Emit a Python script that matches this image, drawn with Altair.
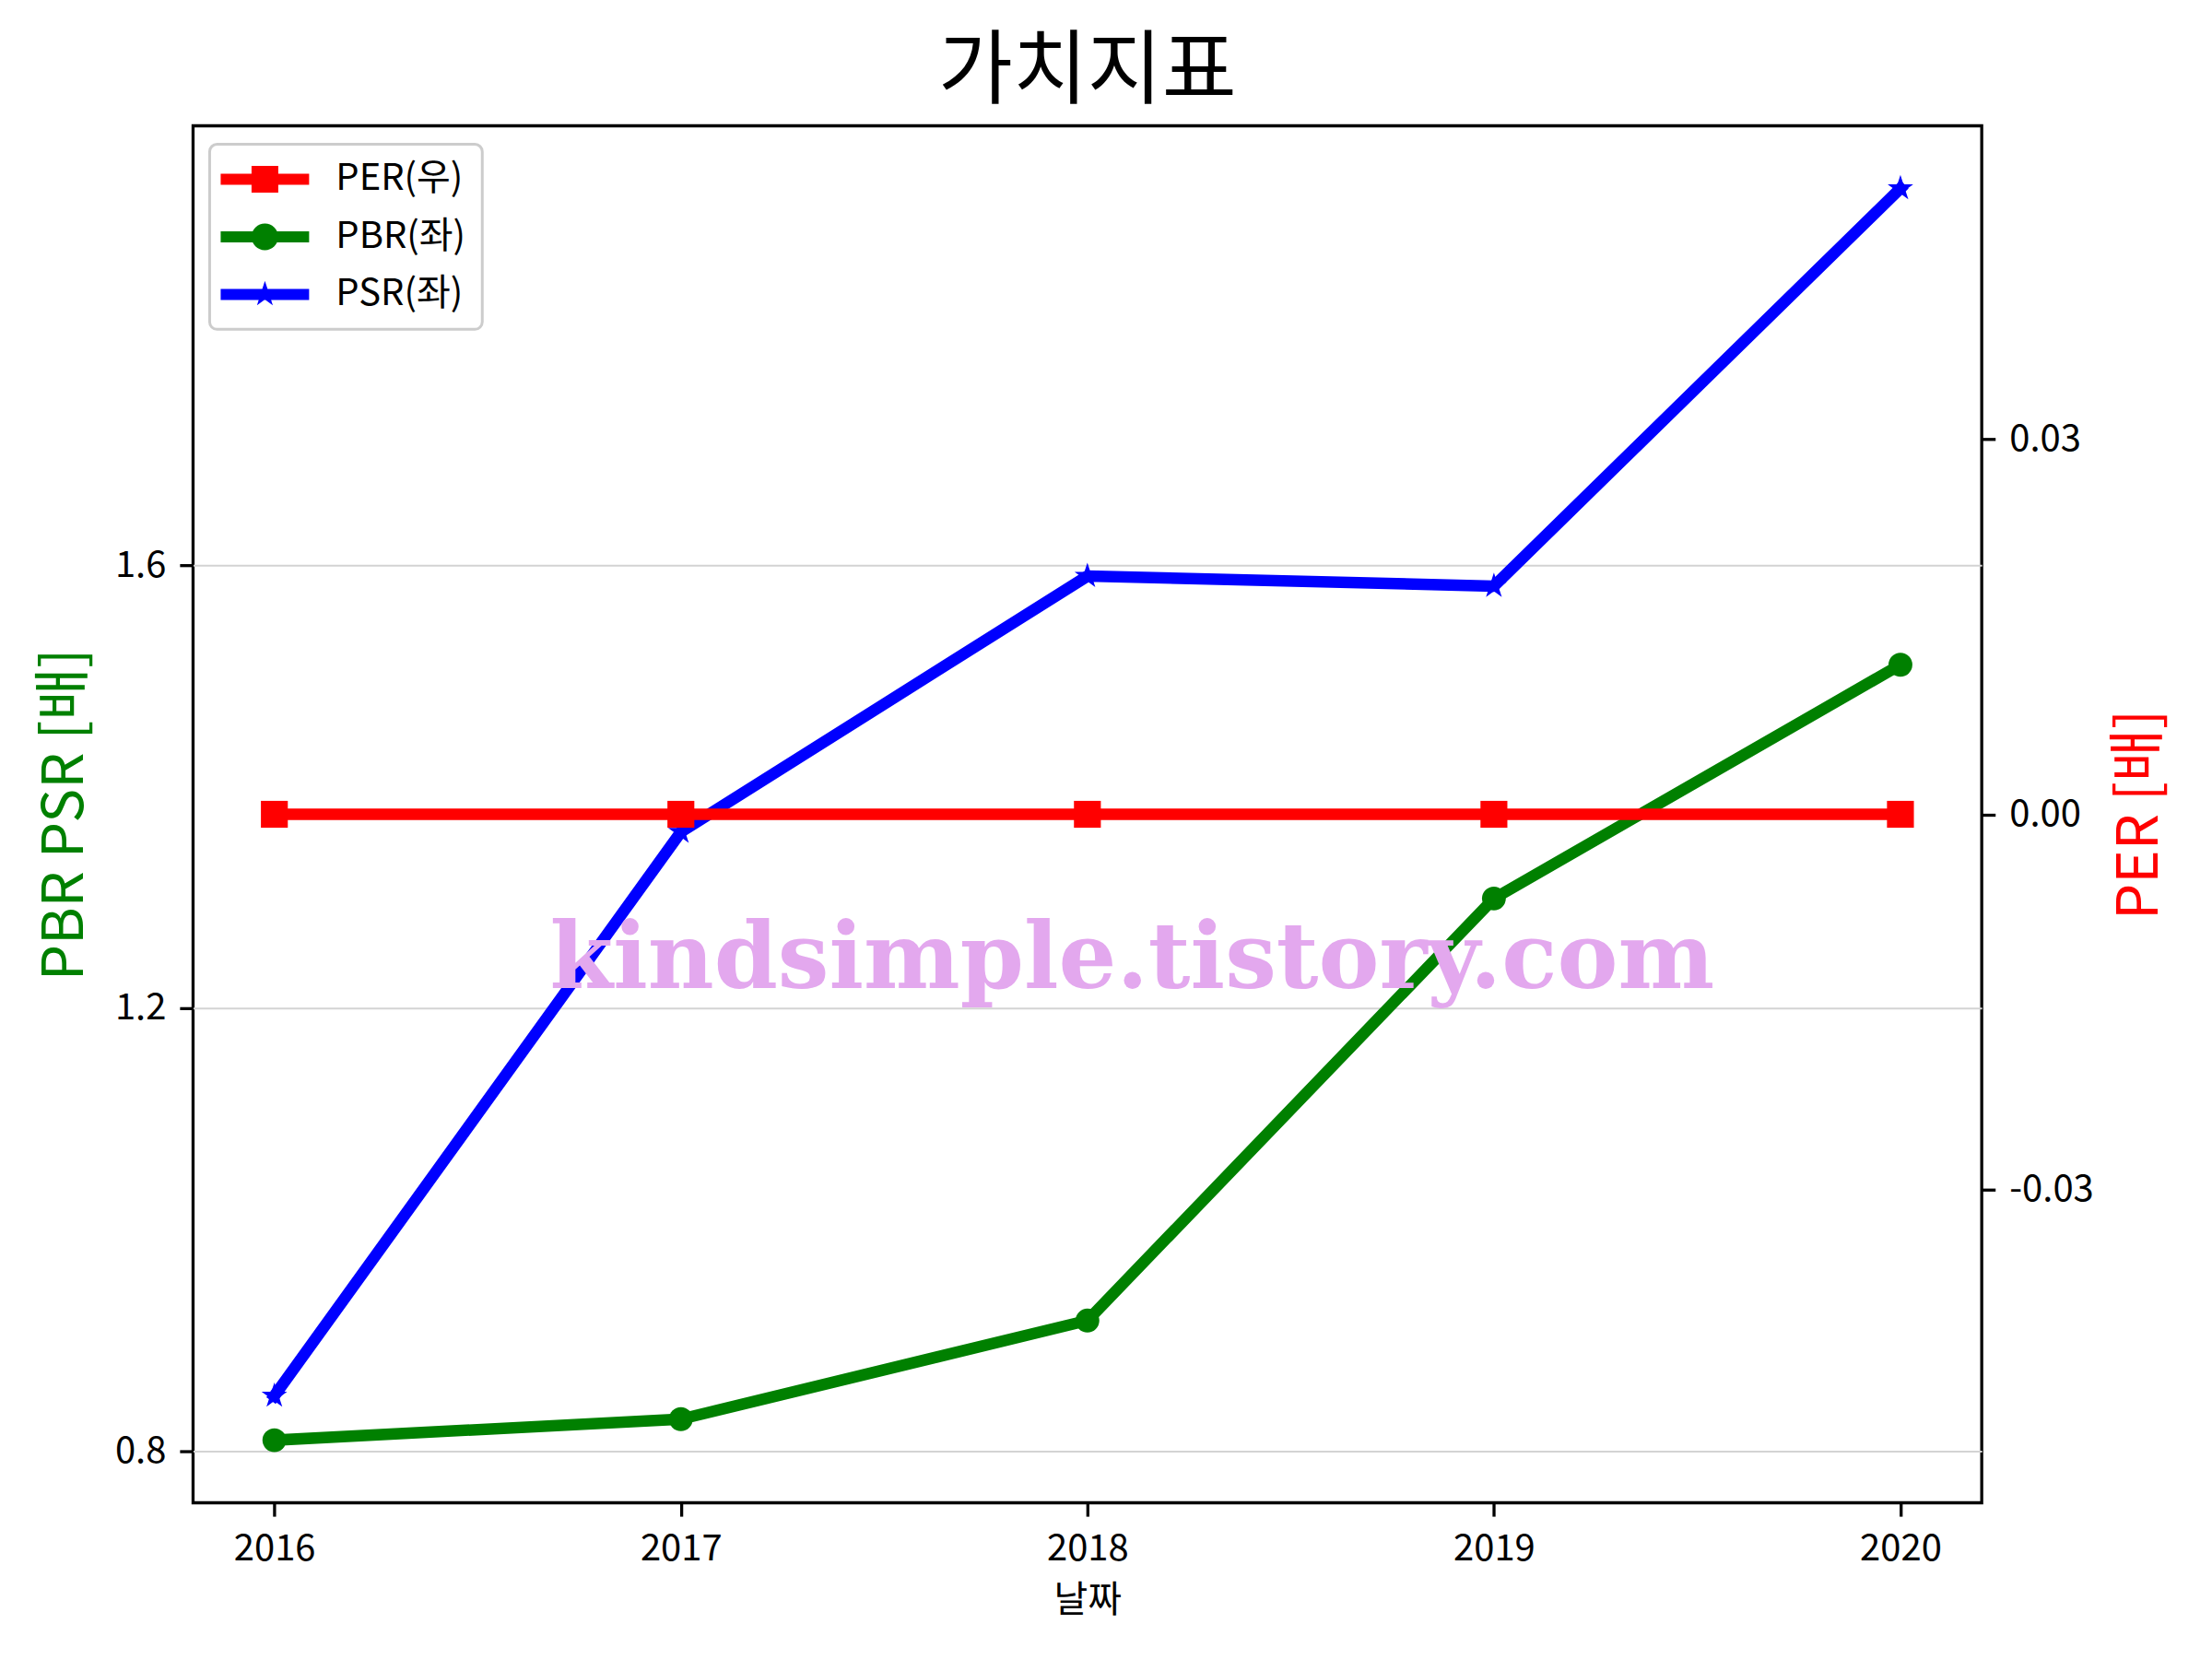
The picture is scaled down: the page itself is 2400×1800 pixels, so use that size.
import math
import altair as alt
import pandas as pd

# ---------------- data ----------------
years = [2016, 2017, 2018, 2019, 2020]
per_values = [0.0, 0.0, 0.0, 0.0, 0.0]
pbr_values = [0.810, 0.829, 0.918, 1.299, 1.510]
psr_values = [0.850, 1.359, 1.590, 1.581, 1.940]
series_names = ["PER(우)", "PBR(좌)", "PSR(좌)"]
series_colors = ["#FF0000", "#008000", "#0000FF"]
left_ticks = [0.8, 1.2, 1.6]
right_ticks = [-0.03, 0.0, 0.03]

FONT = "Noto Sans CJK KR"

rows = []
for name, vals in zip(series_names, [per_values, pbr_values, psr_values]):
    for yr, v in zip(years, vals):
        rows.append({"year": yr, "series": name, "value": v})
df = pd.DataFrame(rows)
df_left = df[df["series"] != series_names[0]]
df_per = df[df["series"] == series_names[0]]
df_pbr = df[df["series"] == series_names[1]]
df_psr = df[df["series"] == series_names[2]]

# ---------------- geometry helpers (marker shapes) ----------------
def star_path(R, cx=0.0, inner=0.381966):
    pts = []
    for i in range(10):
        ang = -math.pi / 2 + i * math.pi / 5
        r = R if i % 2 == 0 else R * inner
        pts.append((cx + r * math.cos(ang), r * math.sin(ang)))
    d = "M" + " L".join(f"{x:.4f},{y:.4f}" for x, y in pts) + " Z"
    return d

# legend symbols: line + marker (units of 12.5px)
dx = 1.76
Lx, Rx, t = dx - 3.84, dx + 3.84, 0.48
line_rect = f"M{Lx:.3f},{-t} H{Rx:.3f} V{t} H{Lx:.3f} Z"
m = 1.16
leg_per = line_rect + f" M{dx - m:.3f},{-m} H{dx + m:.3f} V{m} H{dx - m:.3f} Z"
leg_pbr = line_rect + f" M{dx - m:.3f},0 A{m},{m} 0 1,1 {dx + m:.3f},0 A{m},{m} 0 1,1 {dx - m:.3f},0 Z"
leg_psr = line_rect + " " + star_path(1.17, cx=dx)
chart_star = star_path(1.0)

# ---------------- layout ----------------
PLOT_W, PLOT_H = 1942, 1495
x_dom = [2015.8, 2020.2]
left_dom = [0.7535, 1.9965]
right_dom = [-0.055, 0.055]

x_axis = alt.Axis(values=years, format="d", title="날짜", grid=False, labelPadding=15,
                  titleFont=FONT, titleFontSize=40, titleFontWeight="normal",
                  titleBaseline="middle", titleY=106, titleColor="black")
X = alt.X("year:Q", scale=alt.Scale(domain=x_dom, nice=False, zero=False), axis=x_axis)

left_axis = alt.Axis(values=left_ticks, format=".1f", title="PBR PSR [배]", grid=True,
                     gridColor="#d3d3d3", gridWidth=2, titleColor="green",
                     titleFont=FONT, titleFontSize=62, titleFontWeight="normal",
                     titleAngle=270, titleBaseline="middle", titleAlign="center",
                     titleX=-139, titleY=PLOT_H / 2, labelPadding=15)
YL = alt.Y("value:Q", scale=alt.Scale(domain=left_dom, nice=False, zero=False), axis=left_axis)

right_axis = alt.Axis(values=right_ticks, orient="right", title="PER [배]", grid=False,
                      labelExpr="replace(format(datum.value, '.2f'), '−', '-')",
                      titleColor="red", titleFont=FONT, titleFontSize=62,
                      titleFontWeight="normal", titleAngle=270, titleBaseline="middle",
                      titleAlign="center", titleX=171, titleY=PLOT_H / 2, labelPadding=15)
YR = alt.Y("value:Q", scale=alt.Scale(domain=right_dom, nice=False, zero=False), axis=right_axis)

LW = 12.5

def line(data, color, Y):
    return alt.Chart(data).mark_line(color=color, strokeWidth=LW, strokeCap="square",
                                     strokeJoin="round").encode(x=X, y=Y)

def pts(data, color, shape, size, Y):
    return alt.Chart(data).mark_point(color=color, filled=True, opacity=1, shape=shape,
                                      size=size, strokeWidth=0).encode(x=X, y=Y)

legend = alt.Legend(orient="none", legendX=18, legendY=20, title=None, padding=18,
                    fillColor="white", strokeColor="#cccccc", cornerRadius=8,
                    rowPadding=22.5, labelOffset=79, symbolOffset=0, labelFont=FONT,
                    labelFontSize=40, labelColor="black", labelLimit=400,
                    symbolSize=625, symbolStrokeWidth=0, symbolOpacity=1)

dummy = alt.Chart(df_left).mark_point(filled=True, opacity=0, size=625).encode(
    x=X, y=YL,
    color=alt.Color("series:N", scale=alt.Scale(domain=series_names, range=series_colors), legend=legend),
    shape=alt.Shape("series:N", scale=alt.Scale(domain=series_names, range=[leg_per, leg_pbr, leg_psr]), legend=legend),
)

left = alt.layer(
    line(df_pbr, series_colors[1], YL),
    pts(df_pbr, series_colors[1], "circle", 670, YL),
    line(df_psr, series_colors[2], YL),
    pts(df_psr, series_colors[2], chart_star, 853, YL),
    dummy,
)

right = alt.layer(
    line(df_per, series_colors[0], YR),
    pts(df_per, series_colors[0], "square", 853, YR),
)

watermark = alt.Chart(pd.DataFrame({"t": ["kindsimple.tistory.com"]})).mark_text(
    font="DejaVu Serif", fontWeight="bold", fontSize=99, color="#E3A8EE",
    align="center", baseline="alphabetic",
).encode(
    x=alt.X(datum=2018.11, type="quantitative", scale=alt.Scale(domain=x_dom, nice=False, zero=False), axis=x_axis),
    y=alt.Y(datum=1.218, type="quantitative", scale=alt.Scale(domain=left_dom, nice=False, zero=False), axis=None),
    text="t:N",
)

chart = alt.layer(left, right, watermark).resolve_scale(y="independent").properties(
    width=PLOT_W, height=PLOT_H,
    background="white",
    title=alt.TitleParams("가치지표", font=FONT, fontSize=88, fontWeight="normal",
                          anchor="middle", baseline="alphabetic", offset=-56, color="black"),
    autosize=alt.AutoSizeParams(type="none"),
    padding={"left": 201.6, "top": 128, "right": 242, "bottom": 161},
).configure_view(stroke="black", strokeWidth=3.3).configure_axis(
    domain=False, tickSize=14.6, tickWidth=3.3, tickColor="black",
    labelFont=FONT, labelFontSize=40, labelColor="black",
).configure_legend(strokeWidth=3)

chart.save("out.html", embed_options={"renderer": "svg", "actions": False})
